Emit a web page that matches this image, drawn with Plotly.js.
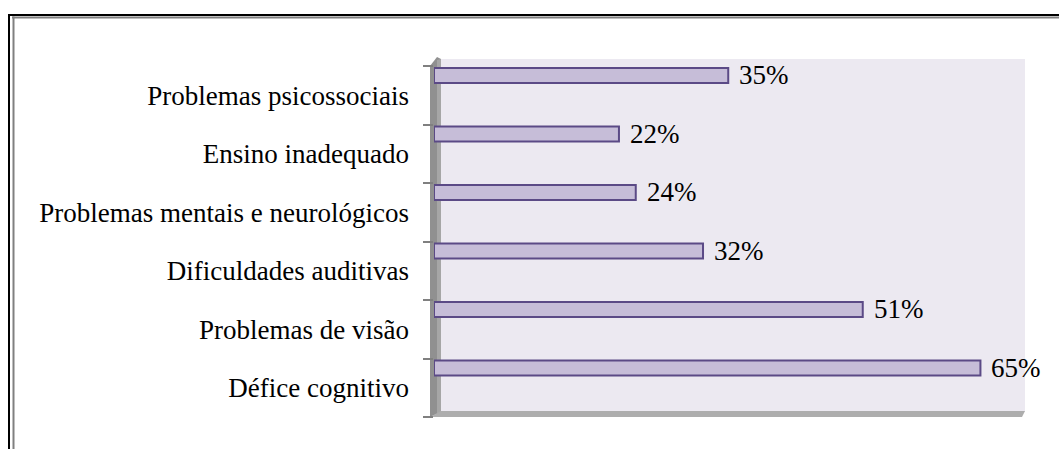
<!DOCTYPE html>
<html>
<head>
<meta charset="utf-8">
<script src="https://cdn.plot.ly/plotly-3.0.1.min.js"></script>
<style>
html,body{margin:0;padding:0;background:#fff;}
#chart{width:1059px;height:449px;}
</style>
</head>
<body>
<div id="chart"></div>
<script>
// Data (bottom to top)
const categories = [
  "Défice cognitivo",
  "Problemas de visão",
  "Dificuldades auditivas",
  "Problemas mentais e neurológicos",
  "Ensino inadequado",
  "Problemas psicossociais"
];
const values = [65, 51, 32, 24, 22, 35];
const valueLabels = ["65%", "51%", "32%", "24%", "22%", "35%"];

const FONT = '"Liberation Serif", "Times New Roman", Times, serif';
const W = 1059, H = 449;
const L = 434, R = 34, T = 66, B = 32;
const pw = W - L - R, ph = H - T - B;
const px = x => (x - L) / pw;
const py = y => (H - B - y) / ph;
const P = (pts) => 'M' + pts.map(p => px(p[0]).toFixed(5) + ',' + py(p[1]).toFixed(5)).join(' L') + ' Z';

const trace = {
  type: 'bar',
  orientation: 'h',
  y: categories,
  x: values,
  width: 0.255,
  offset: 0.21,
  marker: {color: '#C6BDD8', line: {color: '#5B4A86', width: 2}},
  hoverinfo: 'none'
};

const annotations = categories.map((c, i) => ({
  x: values[i], y: c, xref: 'x', yref: 'y',
  text: valueLabels[i], showarrow: false,
  xanchor: 'left', yanchor: 'middle', xshift: 9, yshift: 20,
  font: {family: FONT, size: 27, color: '#000'}
}));

const shapes = [
  // back wall
  {type: 'path', xref: 'paper', yref: 'paper', path: P([[440,59],[1025,59],[1025,412],[440,412]]),
   fillcolor: '#ECE9F1', line: {width: 0}, layer: 'below'},
  // left wall
  {type: 'path', xref: 'paper', yref: 'paper', path: P([[430,66],[437,57],[441,59],[441,412],[430,417]]),
   fillcolor: '#909090', line: {width: 0}, layer: 'below'},
  {type: 'path', xref: 'paper', yref: 'paper', path: P([[437,60],[441,59],[441,412],[437,414]]),
   fillcolor: '#A6A6A6', line: {width: 0}, layer: 'below'},
  // floor
  {type: 'path', xref: 'paper', yref: 'paper', path: P([[430,417],[441,411],[1025,411],[1022,417]]),
   fillcolor: '#ADADAD', line: {width: 0}, layer: 'below'},
  // frame
  {type: 'line', xref: 'paper', yref: 'paper', x0: px(8), x1: px(1059), y0: py(15), y1: py(15),
   line: {color: '#000', width: 2}},
  {type: 'line', xref: 'paper', yref: 'paper', x0: px(12), x1: px(1059), y0: py(17.5), y1: py(17.5),
   line: {color: '#808080', width: 2}},
  {type: 'line', xref: 'paper', yref: 'paper', x0: px(9), x1: px(9), y0: py(14), y1: py(449),
   line: {color: '#000', width: 2}},
  {type: 'line', xref: 'paper', yref: 'paper', x0: px(13.5), x1: px(13.5), y0: py(16.5), y1: py(449),
   line: {color: '#808080', width: 2}}
];

const layout = {
  width: W, height: H,
  margin: {l: L, r: R, t: T, b: B, pad: 0},
  paper_bgcolor: '#ffffff',
  plot_bgcolor: 'rgba(0,0,0,0)',
  showlegend: false,
  bargap: 0,
  font: {family: FONT},
  xaxis: {range: [0, 70.3], showgrid: false, zeroline: false, showticklabels: false, ticks: '', showline: false, fixedrange: true},
  yaxis: {
    type: 'category', categoryorder: 'array', categoryarray: categories,
    range: [-0.5, 5.5],
    showgrid: false, zeroline: false, showline: false,
    ticks: 'outside', tickson: 'boundaries', ticklen: 10, tickwidth: 2, tickcolor: '#808080',
    ticklabelstandoff: 24,
    tickfont: {family: FONT, size: 27, color: '#000'},
    fixedrange: true
  },
  shapes: shapes,
  annotations: annotations
};

Plotly.newPlot('chart', [trace], layout, {displayModeBar: false, staticPlot: true});
</script>
</body>
</html>
